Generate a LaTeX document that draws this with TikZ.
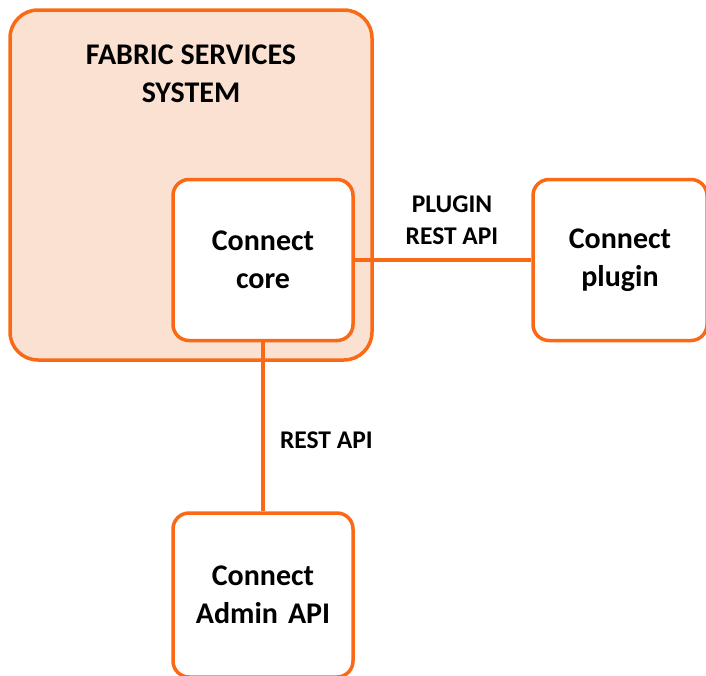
\documentclass[tikz,border=0pt]{standalone}
\usepackage{fontspec}
\setmainfont{Carlito}
\usepackage{tikz}
\usetikzlibrary{positioning}
\definecolor{fsorange}{RGB}{250,106,22}
\definecolor{fspeach}{RGB}{251,225,210}

\begin{document}
\begin{tikzpicture}[x=1pt,y=-1pt,line width=3.5pt]
\tikzstyle{system} = [rectangle, draw=fsorange, fill=fspeach, rounded corners=28pt,
minimum width=362pt, minimum height=350pt]
\tikzstyle{block} = [rectangle, draw=fsorange, fill=white, rounded corners=16pt,
text width=170pt, align=center, font=\bfseries\fontsize{30}{38}\selectfont]
\tikzstyle{line} = [draw=fsorange, line width=3.5pt];
\tikzstyle{apilabel} = [align=center, font=\bfseries\fontsize{25.5}{32}\selectfont]
\useasboundingbox (0,0) rectangle (706,675);
% boxes
\node [system] (sys) at (191,185) {};
\node [align=center, font=\bfseries\fontsize{30}{38}\selectfont] (title) at (191,74) {FABRIC SERVICES\\SYSTEM};
\node [block, minimum width=180pt, minimum height=161pt] (core) at (263,260) {Connect\\core};
\node [block, text width=164pt, minimum width=174pt, minimum height=161pt] (plugin) at (620,260) {Connect\\plugin};
\node [block, minimum width=180pt, minimum height=164pt] (admin) at (263,595) {Connect\\Admin API};
% links
\path[line] (core) -- node[apilabel, above=10pt, xshift=9pt] (pluginapi) {PLUGIN\\REST API} (plugin);
\path[line] (core) -- node[apilabel, right=12pt, yshift=-13pt] (restapi) {REST API} (admin);
\end{tikzpicture}
\end{document}
